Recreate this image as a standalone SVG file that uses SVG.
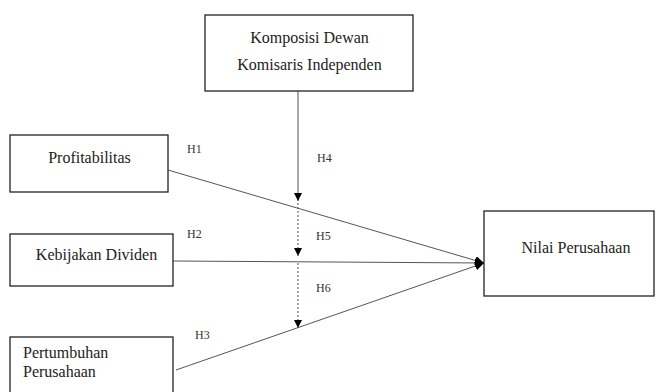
<svg xmlns="http://www.w3.org/2000/svg" width="656" height="392" viewBox="0 0 656 392">
<defs>
<marker id="ah" viewBox="0 0 10 10" refX="10" refY="5" markerWidth="9" markerHeight="9" markerUnits="userSpaceOnUse" orient="auto">
<path d="M0,0 L10,5 L0,10 z" fill="#000"/>
</marker>
<marker id="ah2" viewBox="0 0 10 10" refX="10" refY="5" markerWidth="8" markerHeight="8" markerUnits="userSpaceOnUse" orient="auto">
<path d="M0,0 L10,5 L0,10 z" fill="#000"/>
</marker>
</defs>
<style>
.box{fill:#fff;stroke:#222;stroke-width:1.3}
.t{font-family:"Liberation Serif","Times New Roman",serif;font-size:16px;fill:#222}
.h{font-family:"Liberation Serif","Times New Roman",serif;font-size:12px;fill:#333}
.ln{stroke:#555;stroke-width:1;fill:none}
.dt{stroke:#555;stroke-width:1;fill:none;stroke-dasharray:2,2}
</style>
<rect width="656" height="392" fill="#fff"/>
<g id="connectors">
<line class="ln" x1="168" y1="170" x2="484" y2="263" marker-end="url(#ah)"/>
<line class="ln" x1="173" y1="261" x2="484" y2="263" marker-end="url(#ah)"/>
<line class="ln" x1="176" y1="370" x2="484" y2="263" marker-end="url(#ah)"/>
<line class="ln" x1="298" y1="91" x2="298" y2="201" marker-end="url(#ah2)"/>
<line class="dt" x1="298" y1="203" x2="298" y2="256" marker-end="url(#ah2)"/>
<line class="dt" x1="298" y1="263" x2="298" y2="328" marker-end="url(#ah2)"/>
</g>
<g id="labels">
<text class="h" x="187" y="153">H1</text>
<text class="h" x="317" y="162">H4</text>
<text class="h" x="187" y="238">H2</text>
<text class="h" x="316" y="240">H5</text>
<text class="h" x="316" y="292">H6</text>
<text class="h" x="195" y="339">H3</text>
</g>
<g id="komposisi">
<rect class="box" x="205" y="15" width="208" height="76"/>
<text class="t" x="309.5" y="43" text-anchor="middle">Komposisi Dewan</text>
<text class="t" x="309.5" y="70" text-anchor="middle">Komisaris Independen</text>
</g>
<g id="profitabilitas">
<rect class="box" x="10" y="135" width="158" height="57"/>
<text class="t" x="89.5" y="163" text-anchor="middle">Profitabilitas</text>
</g>
<g id="kebijakan">
<rect class="box" x="10" y="234" width="163" height="52"/>
<text class="t" x="96.5" y="260" text-anchor="middle">Kebijakan Dividen</text>
</g>
<g id="pertumbuhan">
<rect class="box" x="10" y="337" width="163" height="70"/>
<text class="t" x="23" y="358">Pertumbuhan</text>
<text class="t" x="23" y="377">Perusahaan</text>
</g>
<g id="nilai">
<rect class="box" x="484" y="211" width="170" height="85"/>
<text class="t" x="576" y="253" text-anchor="middle">Nilai Perusahaan</text>
</g>
</svg>
